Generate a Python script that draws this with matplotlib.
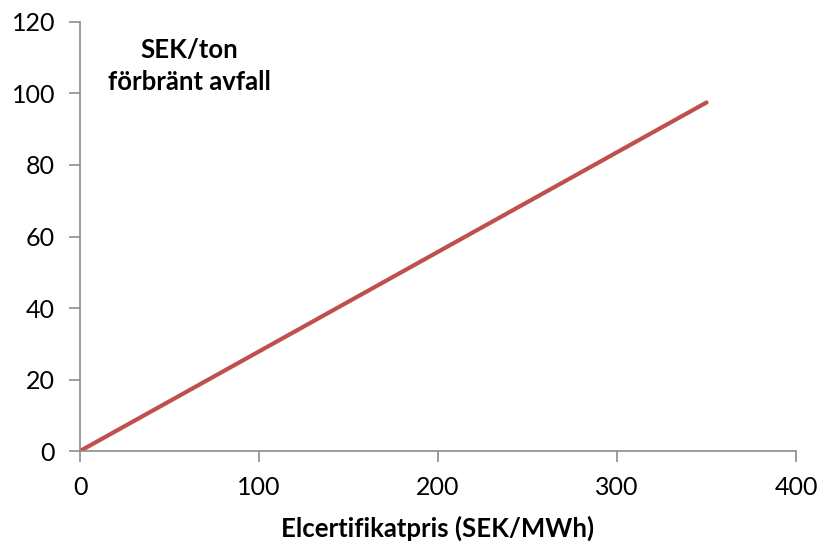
import numpy as np
import matplotlib
matplotlib.use("Agg")
from matplotlib import pyplot as plt

plt.rcParams['font.family'] = ['Lato', 'DejaVu Sans']

# certificate price (SEK/MWh) vs. value per ton of burnt waste
price = [0, 350]
sek_per_ton = [0, 97.5]

x_ticks = [0, 100, 200, 300, 400]
y_ticks = [0, 20, 40, 60, 80, 100, 120]

fig = plt.figure(figsize=(8.19, 5.43), dpi=100)
ax = fig.add_axes([0.0977, 0.1694, 0.8743, 0.7901])

ax.plot(price, sek_per_ton, color='#c0504d', lw=3, solid_capstyle='round')

ax.set_xlim(0, 400)
ax.set_ylim(0, 120)
ax.set_xticks(x_ticks)
ax.set_yticks(y_ticks)

for s in ['top', 'right']:
    ax.spines[s].set_visible(False)
for s in ['left', 'bottom']:
    ax.spines[s].set_color('#8c8c8c')
    ax.spines[s].set_linewidth(1.2)
ax.tick_params(colors='#8c8c8c', length=8, width=1.2, labelsize=18, labelcolor='black')
ax.tick_params(axis='x', pad=10)
ax.tick_params(axis='y', pad=10)

ax.set_xlabel('Elcertifikatpris (SEK/MWh)', fontsize=18.5, fontweight='bold', labelpad=12)
ax.text(61, 107.8, 'SEK/ton\nförbränt avfall', ha='center', va='center',
        fontsize=18.5, fontweight='bold', linespacing=1.4)

fig.savefig('out.png', dpi=100)
